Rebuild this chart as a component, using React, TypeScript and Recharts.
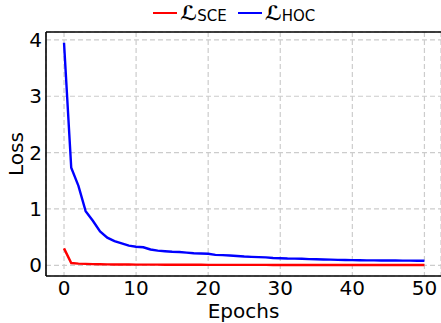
import { LineChart, Line, XAxis, YAxis, CartesianGrid, Legend, Label, ReferenceLine } from "recharts";

const epochs = [
  0, 1, 2, 3, 4, 5, 6, 7, 8, 9, 10, 11, 12, 13, 14, 15, 16, 17, 18, 19, 20, 21, 22, 23, 24, 25,
  26, 27, 28, 29, 30, 31, 32, 33, 34, 35, 36, 37, 38, 39, 40, 41, 42, 43, 44, 45, 46, 47, 48, 49, 50,
];

const lossSce = [
  0.3, 0.04, 0.03, 0.025, 0.021, 0.018, 0.016, 0.015, 0.014, 0.013, 0.012, 0.012, 0.011, 0.011, 0.01,
  0.01, 0.01, 0.009, 0.009, 0.009, 0.008, 0.008, 0.008, 0.008, 0.007, 0.007, 0.007, 0.007, 0.007, 0.006,
  0.006, 0.006, 0.006, 0.006, 0.006, 0.006, 0.005, 0.005, 0.005, 0.005, 0.005, 0.005, 0.005, 0.005,
  0.005, 0.005, 0.005, 0.005, 0.004, 0.004, 0.004,
];

const lossHoc = [
  3.95, 1.73, 1.41, 0.96, 0.79, 0.6, 0.49, 0.43, 0.39, 0.35, 0.33, 0.32, 0.28, 0.26, 0.25, 0.24, 0.235,
  0.225, 0.215, 0.21, 0.205, 0.185, 0.18, 0.175, 0.165, 0.155, 0.15, 0.145, 0.14, 0.13, 0.125, 0.12,
  0.118, 0.115, 0.11, 0.106, 0.103, 0.1, 0.097, 0.094, 0.092, 0.09, 0.088, 0.087, 0.086, 0.085, 0.084,
  0.083, 0.082, 0.081, 0.08,
];

const xTicks = [0, 10, 20, 30, 40, 50];
const yTicks = [0, 1, 2, 3, 4];

const data = epochs.map((e, i) => ({ epoch: e, sce: lossSce[i], hoc: lossHoc[i] }));

const font = "'DejaVu Sans', sans-serif";
const Y_MAX = 4.14;

function LegendBox() {
  const item = (color: string, sub: string) => (
    <div style={{ display: "flex", alignItems: "center", marginRight: 11 }}>
      <div style={{ width: 24, height: 2.4, background: color, marginRight: 3 }} />
      <span style={{ fontSize: 20, lineHeight: "24px", fontWeight: "bold" }}>ℒ</span>
      <span style={{ fontSize: 15, lineHeight: "18px", position: "relative", top: 3 }}>{sub}</span>
    </div>
  );
  return (
    <div style={{ display: "flex", paddingLeft: 153, paddingTop: 1, fontFamily: font, color: "#000" }}>
      {item("#ff0000", "SCE")}
      {item("#0000ff", "HOC")}
    </div>
  );
}

export default function App() {
  return (
    <div style={{ position: "absolute", left: 0, top: 0, background: "#fff" }}>
      <LineChart width={441} height={323} data={data} margin={{ top: 0, right: 0, bottom: 0, left: 0 }}>
        <Legend
          verticalAlign="top"
          content={<LegendBox />}
          wrapperStyle={{ left: 0, top: 0, width: 441, height: 32 }}
        />
        <CartesianGrid stroke="#cccccc" strokeDasharray="5 3" strokeWidth={1.2} />
        <XAxis
          dataKey="epoch"
          type="number"
          domain={[-2.5, 52.3]}
          ticks={xTicks}
          allowDataOverflow
          height={47}
          tickLine={false}
          tickSize={3}
          tickMargin={2}
          axisLine={{ stroke: "#000", strokeWidth: 1.6 }}
          tick={{ fontSize: 20, fill: "#000", fontFamily: font }}
        >
          <Label value="Epochs" position="insideBottom" offset={5} style={{ fontSize: 20, fill: "#000", fontFamily: font }} />
        </XAxis>
        <YAxis
          type="number"
          domain={[-0.19, Y_MAX]}
          ticks={yTicks}
          allowDataOverflow
          width={46}
          tickLine={false}
          tickSize={2}
          tickMargin={2}
          axisLine={{ stroke: "#000", strokeWidth: 1.6 }}
          tick={{ fontSize: 20, fill: "#000", fontFamily: font }}
        >
          <Label value="Loss" angle={-90} position="insideLeft" offset={16} style={{ fontSize: 20, fill: "#000", fontFamily: font, textAnchor: "middle" }} />
        </YAxis>
        <ReferenceLine y={Y_MAX} stroke="#000" strokeWidth={1.6} />
        <Line type="linear" dataKey="sce" stroke="#ff0000" strokeWidth={2.4} dot={false} isAnimationActive={false} />
        <Line type="linear" dataKey="hoc" stroke="#0000ff" strokeWidth={2.4} dot={false} isAnimationActive={false} />
      </LineChart>
    </div>
  );
}
